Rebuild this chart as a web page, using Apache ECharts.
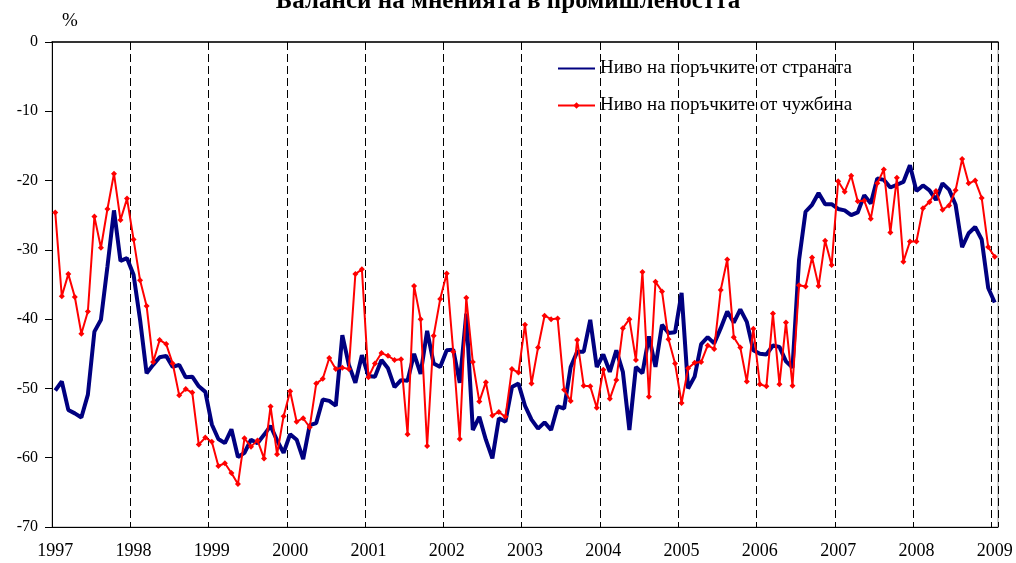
<!DOCTYPE html>
<html lang="bg">
<head>
    <meta charset="UTF-8">
    <title>Баланси на мненията в промишлеността</title>
    <script src="https://cdn.jsdelivr.net/npm/echarts@6.0.0/dist/echarts.min.js"></script>
</head>
<body style="margin:0">

<div id="main" style="width: 1016px;height:563px;"></div>
<script type="text/javascript">

    let years = ['1997', '1998', '1999', '2000', '2001', '2002', '2003', '2004', '2005', '2006', '2007', '2008', '2009'];

    // ниво на поръчките от страната, по месеци от януари 1997 до януари 2009
    let domestic = [
        -50.3, -49.0, -53.1, -53.6, -54.2, -50.9, -41.8, -40.1, -32.4, -24.3, -31.6, -31.2,
        -33.6, -40.1, -47.8, -46.6, -45.5, -45.3, -46.9, -46.6, -48.4, -48.3, -49.7, -50.5,
        -55.2, -57.3, -57.9, -55.9, -59.9, -59.3, -57.4, -57.9, -56.7, -55.4, -57.5, -59.3,
        -56.6, -57.4, -60.2, -55.3, -55.0, -51.6, -51.8, -52.5, -42.3, -46.6, -49.2, -45.2,
        -48.2, -48.3, -45.9, -47.1, -49.8, -48.8, -48.9, -45.0, -47.9, -41.7, -46.4, -46.9,
        -44.5, -44.4, -49.2, -39.2, -56.0, -54.1, -57.4, -60.1, -54.3, -54.8, -49.8, -49.3,
        -52.5, -54.5, -55.8, -54.9, -56.0, -52.6, -52.9, -46.9, -44.7, -44.7, -40.1, -46.9,
        -45.1, -47.6, -44.5, -47.6, -56.0, -46.9, -47.8, -42.5, -46.9, -40.8, -42.0, -41.9,
        -36.2, -50.0, -48.3, -43.6, -42.6, -43.5, -41.3, -38.9, -40.5, -38.6, -40.4, -44.5,
        -45.0, -45.1, -43.8, -44.0, -46.1, -47.0, -31.5, -24.5, -23.5, -21.8, -23.4, -23.4,
        -24.1, -24.3, -25.0, -24.6, -22.1, -23.3, -19.7, -19.9, -21.0, -20.6, -20.2, -17.8,
        -21.5, -20.7, -21.4, -22.8, -20.4, -21.3, -23.5, -29.6, -27.6, -26.7, -28.5, -35.5,
        -37.6
    ];

    // ниво на поръчките от чужбина
    let foreign = [
        -24.6, -36.7, -33.5, -36.8, -42.1, -38.9, -25.2, -29.7, -24.1, -19.0, -25.7, -22.6,
        -28.5, -34.4, -38.1, -46.2, -43.0, -43.6, -46.4, -51.0, -50.1, -50.6, -58.1, -57.1,
        -57.7, -61.2, -60.8, -62.2, -63.8, -57.2, -58.4, -57.5, -60.1, -52.6, -59.5, -54.0,
        -50.4, -54.8, -54.3, -55.6, -49.3, -48.6, -45.6, -47.2, -47.0, -47.2, -33.5, -32.8,
        -48.4, -46.4, -44.9, -45.3, -45.9, -45.8, -56.6, -35.2, -40.0, -58.3, -42.4, -37.1,
        -33.4, -44.7, -57.3, -36.9, -46.2, -51.9, -49.1, -53.9, -53.4, -54.1, -47.2, -47.7,
        -40.8, -49.3, -44.1, -39.5, -40.0, -39.9, -50.2, -51.8, -43.0, -49.6, -49.7, -52.8,
        -47.3, -51.5, -48.8, -41.3, -40.0, -45.9, -33.2, -51.2, -34.6, -36.0, -42.9, -46.4,
        -52.1, -47.1, -46.3, -46.2, -43.8, -44.3, -35.8, -31.4, -42.6, -44.1, -49.0, -41.4,
        -49.4, -49.7, -39.2, -49.4, -40.5, -49.6, -35.1, -35.3, -31.1, -35.2, -28.7, -32.2,
        -20.1, -21.6, -19.3, -23.0, -22.9, -25.5, -20.4, -18.4, -27.5, -19.6, -31.7, -28.8,
        -28.8, -24.0, -23.1, -21.5, -24.2, -23.6, -21.4, -16.9, -20.4, -20.0, -22.5, -29.6,
        -31.0
    ];

    let yTicks = [0, -10, -20, -30, -40, -50, -60, -70];

    // месеци: 1997-01 ... 2009-01
    let months = [];
    years.forEach(function (y, k) {
        for (let m = 1; m <= 12; m++) {
            if (k === years.length - 1 && m > 1) break;
            months.push(y + '-' + (m < 10 ? '0' + m : m));
        }
    });

    let font = 'Liberation Serif';

    option = {
        backgroundColor: '#fff',
        animation: false,
        textStyle: {fontFamily: font},
        title: {
            text: 'Баланси на мненията в промишлеността',
            left: 'center',
            top: -16,
            textStyle: {fontFamily: font, fontSize: 25, fontWeight: 'bold', color: '#000'}
        },
        graphic: [{
            type: 'text',
            left: 62,
            top: 12,
            style: {text: '%', font: '19px ' + font, fill: '#000'}
        }],
        legend: {
            orient: 'vertical',
            left: 557,
            top: 59,
            padding: 0,
            itemWidth: 37,
            itemHeight: 8,
            itemGap: 18,
            textStyle: {fontFamily: font, fontSize: 19, color: '#000'},
            data: [
                {name: 'Ниво на поръчките от страната', itemStyle: {color: 'rgba(0,0,0,0)', borderWidth: 0}},
                {name: 'Ниво на поръчките от чужбина'}
            ]
        },
        grid: {
            left: 52,
            right: 18,
            top: 42,
            bottom: 36,
            show: true,
            borderColor: '#a0a0a0',
            borderWidth: 1
        },
        xAxis: [{
            type: 'category',
            data: months,
            boundaryGap: true,
            position: 'bottom',
            axisLine: {onZero: false, lineStyle: {color: '#000', width: 1}},
            axisTick: {inside: true, length: 8, interval: 11, lineStyle: {color: '#000'}},
            axisLabel: {
                interval: 11,
                margin: 15,
                fontFamily: font,
                fontSize: 18,
                color: '#000',
                formatter: function (v) { return v.slice(0, 4); }
            },
            splitLine: {
                show: true,
                interval: 11,
                lineStyle: {color: '#000', type: [8, 4], width: 1}
            }
        }, {
            type: 'category',
            data: months,
            boundaryGap: true,
            position: 'top',
            axisLine: {onZero: false, lineStyle: {color: '#000', width: 1.5}},
            axisTick: {inside: true, length: 7, interval: 11, lineStyle: {color: '#000'}},
            axisLabel: {show: false},
            splitLine: {show: false}
        }],
        yAxis: {
            type: 'value',
            min: yTicks[yTicks.length - 1],
            max: yTicks[0],
            interval: 10,
            axisLine: {show: true, onZero: false, lineStyle: {color: '#000', width: 1}},
            axisTick: {show: true, length: 7, lineStyle: {color: '#000'}},
            axisLabel: {margin: 14, fontFamily: font, fontSize: 16, color: '#000'},
            splitLine: {show: false}
        },
        series: [{
            name: 'Ниво на поръчките от страната',
            type: 'line',
            symbol: 'none',
            lineStyle: {color: '#000080', width: 4},
            itemStyle: {color: '#000080'},
            data: domestic
        }, {
            name: 'Ниво на поръчките от чужбина',
            type: 'line',
            symbol: 'diamond',
            symbolSize: 6,
            showAllSymbol: true,
            lineStyle: {color: '#ff0000', width: 2},
            itemStyle: {color: '#ff0000'},
            data: foreign
        }]
    };

    let myChart = echarts.init(document.getElementById('main'));
    myChart.setOption(option);
</script>
</body>
</html>
